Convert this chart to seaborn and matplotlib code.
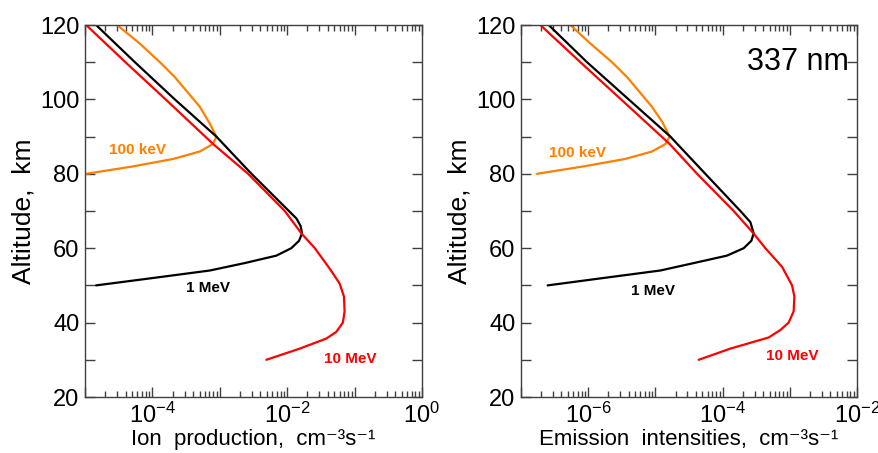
import numpy as np
import pandas as pd
import matplotlib
matplotlib.use("Agg")
import matplotlib.pyplot as plt
import matplotlib.ticker as mticker
import seaborn as sns

# ---- data ----
# left panel: ion production, cm-3 s-1
alt_10mev = [120, 110, 100, 88, 80, 70, 64, 60, 54.5, 50.5, 47, 43, 40, 37.5, 35.7, 33, 30]
ion_10mev = [1.04e-5, 3.98e-5, 1.57e-4, 7.96e-4, 2.63e-3, 9.2e-3, 1.62e-2, 2.57e-2, 4.27e-2,
             6.0e-2, 6.95e-2, 7.1e-2, 6.7e-2, 5.35e-2, 3.8e-2, 1.53e-2, 4.9e-3]
alt_1mev = [120, 110, 100, 90, 80, 70, 68, 66, 64, 62, 60, 58, 56, 54, 52, 50]
ion_1mev = [1.46e-5, 5.5e-5, 2.15e-4, 8.9e-4, 2.95e-3, 1.06e-2, 1.37e-2, 1.58e-2, 1.66e-2,
            1.5e-2, 1.15e-2, 6.9e-3, 2.34e-3, 7.1e-4, 1.03e-4, 1.46e-5]
alt_100kev = [120, 115, 110, 106, 98, 93.5, 90, 88, 86, 84, 82, 80]
ion_100kev = [3.0e-5, 6.5e-5, 1.29e-4, 2.15e-4, 5.06e-4, 7.1e-4, 8.9e-4, 7.9e-4, 5.06e-4,
              2.04e-4, 5.2e-5, 1.04e-5]

# right panel: 337 nm emission intensities, cm-3 s-1
alt_10mev_e = [120, 110, 100, 88, 80, 70, 64, 60, 55, 50, 47, 43, 40, 38, 36, 33, 30]
em_10mev = [1.94e-7, 7.64e-7, 3.08e-6, 1.63e-5, 4.17e-5, 1.46e-4, 2.88e-4, 4.33e-4, 7.66e-4,
            1.08e-3, 1.17e-3, 1.14e-3, 9.6e-4, 7.23e-4, 4.85e-4, 1.30e-4, 4.41e-5]
alt_1mev_e = [120, 110, 100, 90, 80, 70, 67, 64, 62, 60, 58, 56, 54, 52, 50]
em_1mev = [2.58e-7, 9.6e-7, 4.0e-6, 1.67e-5, 5.53e-5, 1.84e-4, 2.59e-4, 2.9e-4, 2.68e-4,
           2.06e-4, 1.16e-4, 3.72e-5, 1.18e-5, 1.70e-6, 2.49e-7]
alt_100kev_e = [120, 115, 110, 106, 98, 94, 90, 88, 86, 84, 82, 80]
em_100kev = [5.42e-7, 1.08e-6, 2.26e-6, 3.78e-6, 8.9e-6, 1.26e-5, 1.63e-5, 1.41e-5, 8.9e-6,
             3.57e-6, 8.6e-7, 1.73e-7]

energies = ["100 keV", "1 MeV", "10 MeV"]
colors = {"100 keV": "#ff7f00", "1 MeV": "#000000", "10 MeV": "#ff0000"}


def long_table(alts, vals):
    parts = []
    for name, a, v in zip(energies, alts, vals):
        parts.append(pd.DataFrame({"alt": a, "value": v, "energy": name}))
    return pd.concat(parts, ignore_index=True)


ion_df = long_table([alt_100kev, alt_1mev, alt_10mev], [ion_100kev, ion_1mev, ion_10mev])
em_df = long_table([alt_100kev_e, alt_1mev_e, alt_10mev_e], [em_100kev, em_1mev, em_10mev])

sns.set_style("ticks", rc={"text.color": "black", "axes.labelcolor": "black",
                           "xtick.color": "black", "ytick.color": "black"})
plt.rcParams["font.family"] = ["Liberation Sans", "DejaVu Sans"]
plt.rcParams["mathtext.fontset"] = "custom"
plt.rcParams["mathtext.rm"] = "Liberation Sans"
plt.rcParams["mathtext.it"] = "Liberation Sans:italic"
plt.rcParams["mathtext.default"] = "regular"

fig = plt.figure(figsize=(8.79, 4.53), dpi=100)
ax1 = fig.add_axes([85 / 879, 56 / 453, 337 / 879, 372 / 453])
ax2 = fig.add_axes([521 / 879, 56 / 453, 336 / 879, 372 / 453])

panels = [
    (ax1, ion_df, (1e-5, 1), [1e-4, 1e-2, 1],
     "Ion  production,  cm\u207b\u00b3s\u207b\u00b9",
     [(10 ** -4.225, 86.5, "100 keV"), (10 ** -3.17, 49.4, "1 MeV"), (10 ** -1.064, 30.1, "10 MeV")]),
    (ax2, em_df, (1e-7, 1e-2), [1e-6, 1e-4, 1e-2],
     "Emission  intensities,  cm\u207b\u00b3s\u207b\u00b9",
     [(10 ** -6.152, 85.5, "100 keV"), (10 ** -5.036, 48.4, "1 MeV"), (10 ** -2.967, 30.9, "10 MeV")]),
]

for ax, df, xlim, labelled, xlabel, notes in panels:
    sns.lineplot(data=df, x="value", y="alt", hue="energy", palette=colors,
                 sort=False, estimator=None, legend=False, lw=1.6, ax=ax)
    ax.set_xscale("log")
    ax.set_xlim(*xlim)
    ax.set_ylim(20, 120)

    lo, hi = int(np.log10(xlim[0])), int(np.log10(xlim[1]))
    decades = [10.0 ** k for k in range(lo, hi + 1)]
    ax.xaxis.set_major_locator(mticker.FixedLocator(decades))
    ax.xaxis.set_minor_locator(mticker.LogLocator(base=10, subs=np.arange(2, 10), numticks=20))
    ax.xaxis.set_minor_formatter(mticker.NullFormatter())
    ax.set_xticklabels([
        "$10^{%d}$" % round(np.log10(d)) if any(np.isclose(d, l) for l in labelled) else ""
        for d in decades])

    ax.set_yticks([20, 40, 60, 80, 100, 120])
    ax.yaxis.set_minor_locator(mticker.MultipleLocator(10))

    ax.tick_params(which="both", direction="in", top=True, right=True,
                   color="#404040", width=1.0)
    ax.tick_params(which="major", length=7, labelsize=17, pad=4)
    ax.tick_params(which="minor", length=4)
    ax.tick_params(axis="y", which="minor", length=7)
    for s in ax.spines.values():
        s.set_color("#404040")
        s.set_linewidth(1.0)

    ax.set_xlabel(xlabel, fontsize=16, labelpad=1)
    ax.set_ylabel("Altitude,  km", fontsize=19, labelpad=3)

    for x, y, name in notes:
        ax.text(x, y, name, color=colors[name], fontsize=11, fontweight="bold",
                ha="center", va="center")

ax2.text(0.976, 0.90, "337 nm", transform=ax2.transAxes, fontsize=22,
         ha="right", va="center")

fig.savefig("out.png", dpi=100)
